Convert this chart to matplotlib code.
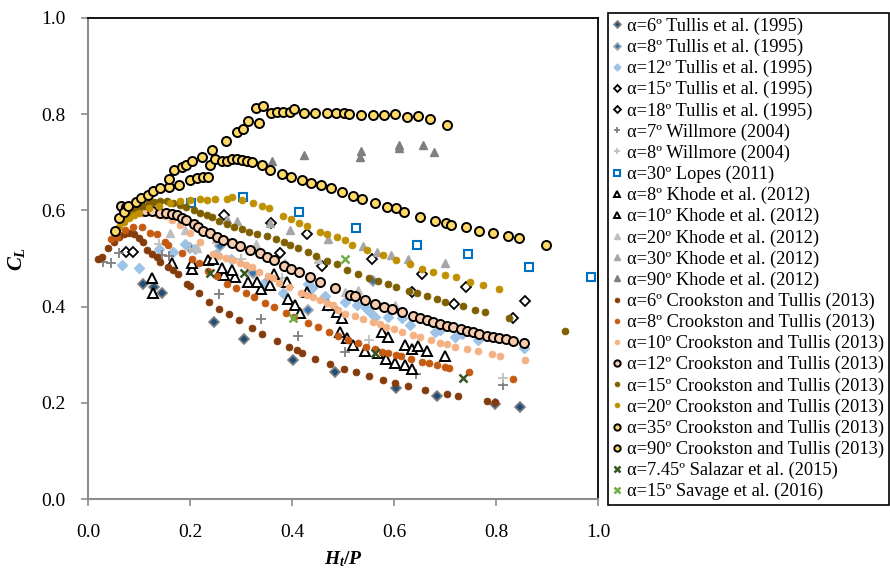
import matplotlib
matplotlib.use('Agg')
import matplotlib.pyplot as plt

plt.rcParams['font.family'] = ['Liberation Serif', 'DejaVu Serif']
plt.rcParams['mathtext.fontset'] = 'custom'
plt.rcParams['mathtext.it'] = 'Liberation Serif:italic:bold'
plt.rcParams['mathtext.rm'] = 'Liberation Serif:bold'

# Tullis et al. (1995)
tullis6_x = [0.107, 0.129, 0.146, 0.248, 0.305, 0.401, 0.484, 0.603, 0.685, 0.799, 0.847]
tullis6_y = [0.446, 0.441, 0.428, 0.367, 0.332, 0.290, 0.263, 0.230, 0.215, 0.198, 0.191]
tullis8_x = [0.200, 0.259, 0.324, 0.386, 0.347, 0.432, 0.558]
tullis8_y = [0.521, 0.525, 0.469, 0.486, 0.448, 0.392, 0.453]
tullis12_x = [0.066, 0.100, 0.140, 0.167, 0.190, 0.210, 0.250, 0.280, 0.344, 0.383, 0.432, 0.440,
              0.465, 0.504, 0.527, 0.545, 0.553, 0.563, 0.589, 0.615, 0.631, 0.680, 0.690, 0.720,
              0.733, 0.765, 0.854]
tullis12_y = [0.486, 0.480, 0.520, 0.514, 0.530, 0.520, 0.510, 0.500, 0.448, 0.428, 0.448, 0.438,
              0.421, 0.410, 0.403, 0.397, 0.389, 0.379, 0.379, 0.376, 0.362, 0.348, 0.352, 0.336,
              0.344, 0.331, 0.313]
tullis15_x = [0.075, 0.089, 0.267, 0.358, 0.429, 0.556, 0.654, 0.742, 0.857]
tullis15_y = [0.514, 0.514, 0.590, 0.574, 0.551, 0.498, 0.468, 0.441, 0.412]
tullis18_x = [0.376, 0.459, 0.635, 0.718, 0.833]
tullis18_y = [0.512, 0.484, 0.431, 0.405, 0.376]

# Willmore (2004)
willmore7_x = [0.029, 0.046, 0.061, 0.146, 0.159, 0.257, 0.339, 0.412, 0.504, 0.643, 0.813]
willmore7_y = [0.493, 0.491, 0.512, 0.507, 0.505, 0.426, 0.374, 0.338, 0.306, 0.260, 0.237]
willmore8_x = [0.140, 0.200, 0.300, 0.380, 0.470, 0.550, 0.813]
willmore8_y = [0.530, 0.520, 0.500, 0.460, 0.400, 0.330, 0.252]

# Lopes (2011)
lopes30_x = [0.201, 0.303, 0.414, 0.525, 0.645, 0.746, 0.865, 0.986]
lopes30_y = [0.615, 0.627, 0.597, 0.564, 0.528, 0.509, 0.482, 0.462]

# Khode et al. (2012)
khode8_x = [0.125, 0.127, 0.203, 0.267, 0.288, 0.339, 0.393, 0.405, 0.416, 0.494, 0.507, 0.520,
            0.544, 0.569, 0.585, 0.602, 0.622, 0.636]
khode8_y = [0.459, 0.428, 0.478, 0.466, 0.462, 0.436, 0.415, 0.403, 0.387, 0.348, 0.334, 0.320,
            0.308, 0.303, 0.292, 0.282, 0.279, 0.270]
khode10_x = [0.164, 0.203, 0.236, 0.246, 0.262, 0.282, 0.314, 0.331, 0.357, 0.365, 0.391, 0.429,
             0.471, 0.488, 0.499, 0.576, 0.589, 0.622, 0.636, 0.648, 0.665, 0.700]
khode10_y = [0.490, 0.490, 0.497, 0.500, 0.480, 0.476, 0.452, 0.452, 0.445, 0.468, 0.452, 0.431,
             0.403, 0.389, 0.376, 0.348, 0.336, 0.320, 0.311, 0.318, 0.308, 0.297]
khode20_x = [0.161, 0.190, 0.213, 0.250, 0.330, 0.450, 0.504, 0.530, 0.602]
khode20_y = [0.552, 0.560, 0.521, 0.540, 0.530, 0.500, 0.431, 0.435, 0.403]
khode30_x = [0.272, 0.292, 0.357, 0.396, 0.471, 0.540, 0.567, 0.594, 0.628, 0.700]
khode30_y = [0.583, 0.577, 0.573, 0.560, 0.540, 0.525, 0.514, 0.507, 0.500, 0.490]
khode90_x = [0.360, 0.424, 0.533, 0.535, 0.609, 0.610, 0.657, 0.679]
khode90_y = [0.703, 0.715, 0.712, 0.724, 0.736, 0.729, 0.736, 0.721]

# Crookston and Tullis (2013)
ct6_x = [0.020, 0.027, 0.040, 0.050, 0.060, 0.070, 0.080, 0.090, 0.100, 0.108, 0.115, 0.125,
         0.135, 0.141, 0.157, 0.167, 0.177, 0.194, 0.200, 0.218, 0.238, 0.257, 0.277, 0.296,
         0.321, 0.342, 0.370, 0.394, 0.409, 0.419, 0.445, 0.475, 0.501, 0.525, 0.551, 0.579,
         0.602, 0.628, 0.661, 0.703, 0.726, 0.783, 0.799]
ct6_y = [0.500, 0.504, 0.521, 0.535, 0.545, 0.550, 0.553, 0.550, 0.543, 0.535, 0.518, 0.510,
         0.504, 0.493, 0.483, 0.476, 0.468, 0.448, 0.443, 0.428, 0.410, 0.395, 0.384, 0.372,
         0.355, 0.342, 0.329, 0.315, 0.310, 0.304, 0.292, 0.281, 0.270, 0.263, 0.256, 0.247,
         0.242, 0.235, 0.227, 0.218, 0.214, 0.204, 0.202]
ct8_x = [0.045, 0.056, 0.073, 0.089, 0.105, 0.122, 0.135, 0.151, 0.157, 0.184, 0.203, 0.218,
         0.236, 0.252, 0.272, 0.290, 0.309, 0.325, 0.348, 0.365, 0.388, 0.404, 0.431, 0.450,
         0.473, 0.490, 0.510, 0.529, 0.546, 0.563, 0.576, 0.589, 0.604, 0.613, 0.633, 0.654,
         0.669, 0.684, 0.700, 0.708, 0.748, 0.833]
ct8_y = [0.540, 0.545, 0.559, 0.566, 0.566, 0.552, 0.550, 0.535, 0.529, 0.511, 0.500, 0.490,
         0.475, 0.464, 0.448, 0.438, 0.429, 0.419, 0.408, 0.400, 0.386, 0.379, 0.365, 0.357,
         0.347, 0.339, 0.331, 0.324, 0.317, 0.311, 0.306, 0.303, 0.299, 0.298, 0.291, 0.285,
         0.282, 0.279, 0.274, 0.273, 0.263, 0.249]
ct10_x = [0.090, 0.105, 0.120, 0.135, 0.150, 0.165, 0.180, 0.200, 0.220, 0.245, 0.256, 0.270,
          0.285, 0.298, 0.309, 0.321, 0.336, 0.352, 0.363, 0.375, 0.395, 0.417, 0.429, 0.442,
          0.455, 0.469, 0.481, 0.491, 0.504, 0.524, 0.539, 0.558, 0.573, 0.585, 0.600, 0.615,
          0.637, 0.650, 0.672, 0.690, 0.703, 0.720, 0.744, 0.765, 0.792, 0.808, 0.857]
ct10_y = [0.590, 0.595, 0.597, 0.593, 0.588, 0.580, 0.570, 0.553, 0.535, 0.510, 0.506, 0.502,
          0.497, 0.491, 0.487, 0.483, 0.471, 0.464, 0.459, 0.450, 0.440, 0.429, 0.424, 0.419,
          0.414, 0.408, 0.403, 0.392, 0.385, 0.380, 0.374, 0.369, 0.363, 0.358, 0.353, 0.348,
          0.340, 0.337, 0.331, 0.325, 0.322, 0.317, 0.312, 0.307, 0.301, 0.297, 0.289]
ct12_x = [0.065, 0.075, 0.085, 0.095, 0.105, 0.112, 0.126, 0.141, 0.152, 0.164, 0.174, 0.184,
          0.193, 0.207, 0.216, 0.226, 0.239, 0.252, 0.265, 0.282, 0.298, 0.318, 0.337, 0.350,
          0.365, 0.384, 0.398, 0.414, 0.435, 0.455, 0.484, 0.514, 0.524, 0.543, 0.563, 0.581,
          0.597, 0.616, 0.637, 0.650, 0.664, 0.677, 0.690, 0.703, 0.716, 0.731, 0.743, 0.755,
          0.767, 0.782, 0.794, 0.806, 0.819, 0.833, 0.855]
ct12_y = [0.610, 0.607, 0.603, 0.600, 0.600, 0.599, 0.598, 0.595, 0.594, 0.592, 0.590, 0.585,
          0.580, 0.572, 0.566, 0.558, 0.552, 0.545, 0.538, 0.533, 0.525, 0.518, 0.511, 0.504,
          0.497, 0.484, 0.478, 0.471, 0.462, 0.452, 0.439, 0.425, 0.423, 0.413, 0.405, 0.400,
          0.394, 0.388, 0.380, 0.377, 0.372, 0.369, 0.364, 0.360, 0.357, 0.353, 0.350, 0.347,
          0.344, 0.339, 0.336, 0.335, 0.333, 0.328, 0.324]
ct15_x = [0.070, 0.080, 0.090, 0.100, 0.110, 0.120, 0.130, 0.141, 0.154, 0.167, 0.180, 0.193,
          0.207, 0.220, 0.233, 0.243, 0.257, 0.272, 0.286, 0.301, 0.316, 0.332, 0.350, 0.369,
          0.384, 0.396, 0.412, 0.431, 0.448, 0.469, 0.489, 0.507, 0.530, 0.550, 0.569, 0.589,
          0.604, 0.629, 0.646, 0.664, 0.685, 0.700, 0.735, 0.759, 0.779, 0.825, 0.935]
ct15_y = [0.590, 0.595, 0.600, 0.605, 0.610, 0.615, 0.618, 0.620, 0.620, 0.616, 0.612, 0.607,
          0.601, 0.595, 0.590, 0.587, 0.577, 0.572, 0.566, 0.561, 0.556, 0.551, 0.547, 0.540,
          0.535, 0.528, 0.521, 0.514, 0.505, 0.495, 0.489, 0.476, 0.468, 0.459, 0.453, 0.446,
          0.441, 0.433, 0.428, 0.421, 0.415, 0.410, 0.401, 0.392, 0.388, 0.376, 0.350]
ct20_x = [0.050, 0.060, 0.070, 0.080, 0.090, 0.100, 0.120, 0.140, 0.160, 0.180, 0.200, 0.220,
          0.233, 0.249, 0.272, 0.283, 0.301, 0.324, 0.341, 0.354, 0.382, 0.398, 0.414, 0.429,
          0.454, 0.468, 0.488, 0.504, 0.517, 0.548, 0.579, 0.604, 0.631, 0.654, 0.676, 0.700,
          0.721, 0.749, 0.774, 0.806]
ct20_y = [0.555, 0.565, 0.575, 0.585, 0.590, 0.595, 0.605, 0.610, 0.615, 0.620, 0.622, 0.623,
          0.622, 0.624, 0.624, 0.627, 0.622, 0.616, 0.609, 0.606, 0.588, 0.583, 0.574, 0.568,
          0.556, 0.551, 0.544, 0.538, 0.529, 0.518, 0.507, 0.497, 0.488, 0.479, 0.471, 0.466,
          0.461, 0.452, 0.445, 0.437]
ct35_x = [0.052, 0.061, 0.071, 0.079, 0.094, 0.103, 0.118, 0.127, 0.141, 0.159, 0.178, 0.200,
          0.213, 0.226, 0.236, 0.239, 0.249, 0.262, 0.272, 0.282, 0.292, 0.301, 0.311, 0.322,
          0.341, 0.357, 0.381, 0.398, 0.419, 0.437, 0.457, 0.476, 0.499, 0.519, 0.537, 0.563,
          0.586, 0.603, 0.620, 0.650, 0.680, 0.702, 0.712, 0.742, 0.767, 0.795, 0.824, 0.846,
          0.898]
ct35_y = [0.558, 0.584, 0.597, 0.609, 0.618, 0.625, 0.632, 0.640, 0.647, 0.649, 0.653, 0.663,
          0.668, 0.669, 0.670, 0.694, 0.707, 0.702, 0.703, 0.707, 0.707, 0.705, 0.702, 0.701,
          0.694, 0.685, 0.676, 0.669, 0.664, 0.658, 0.652, 0.646, 0.638, 0.629, 0.624, 0.615,
          0.607, 0.605, 0.597, 0.586, 0.579, 0.574, 0.570, 0.565, 0.558, 0.552, 0.547, 0.543,
          0.528]
ct90_x = [0.159, 0.169, 0.184, 0.193, 0.203, 0.224, 0.243, 0.270, 0.293, 0.303, 0.313, 0.329,
          0.335, 0.343, 0.358, 0.370, 0.382, 0.396, 0.404, 0.424, 0.445, 0.468, 0.486, 0.502,
          0.511, 0.535, 0.559, 0.581, 0.602, 0.626, 0.648, 0.671, 0.703]
ct90_y = [0.665, 0.683, 0.690, 0.694, 0.703, 0.710, 0.726, 0.744, 0.763, 0.769, 0.786, 0.813,
          0.782, 0.817, 0.802, 0.804, 0.804, 0.804, 0.810, 0.802, 0.802, 0.802, 0.802, 0.802,
          0.800, 0.798, 0.798, 0.798, 0.800, 0.794, 0.796, 0.790, 0.778]

# Salazar et al. (2015), Savage et al. (2016)
salazar_x = [0.240, 0.306, 0.563, 0.736]
salazar_y = [0.470, 0.470, 0.303, 0.252]
savage_x = [0.401, 0.504]
savage_y = [0.376, 0.498]

series = [
    (tullis6_x, tullis6_y, 'α=6º Tullis et al. (1995)', dict(marker='D', ms=5, mfc='#1F4E79', mec='#7F7F7F', mew=1.2)),
    (tullis8_x, tullis8_y, 'α=8º Tullis et al. (1995)', dict(marker='D', ms=5, mfc='#2E75B6', mec='#A6A6A6', mew=1.2)),
    (tullis12_x, tullis12_y, 'α=12º Tullis et al. (1995)', dict(marker='D', ms=5, mfc='#9DC3E6', mec='#9DC3E6', mew=1)),
    (tullis15_x, tullis15_y, 'α=15º Tullis et al. (1995)', dict(marker='D', ms=5, mfc='white', mec='black', mew=1.3)),
    (tullis18_x, tullis18_y, 'α=18º Tullis et al. (1995)', dict(marker='D', ms=5, mfc='white', mec='black', mew=1.3)),
    (willmore7_x, willmore7_y, 'α=7º Willmore (2004)', dict(marker='+', ms=7, mec='#7F7F7F', mew=1.3)),
    (willmore8_x, willmore8_y, 'α=8º Willmore (2004)', dict(marker='+', ms=7, mec='#BFBFBF', mew=1.3)),
    (lopes30_x, lopes30_y, 'α=30º Lopes (2011)', dict(marker='s', ms=6, mfc='white', mec='#0070C0', mew=1.5)),
    (khode8_x, khode8_y, 'α=8º Khode et al. (2012)', dict(marker='^', ms=7, mfc='white', mec='black', mew=1.4)),
    (khode10_x, khode10_y, 'α=10º Khode et al. (2012)', dict(marker='^', ms=7, mfc='white', mec='black', mew=1.4)),
    (khode20_x, khode20_y, 'α=20º Khode et al. (2012)', dict(marker='^', ms=6, mfc='#BFBFBF', mec='#BFBFBF', mew=1)),
    (khode30_x, khode30_y, 'α=30º Khode et al. (2012)', dict(marker='^', ms=6, mfc='#A6A6A6', mec='#A6A6A6', mew=1)),
    (khode90_x, khode90_y, 'α=90º Khode et al. (2012)', dict(marker='^', ms=6, mfc='#7F7F7F', mec='#7F7F7F', mew=1)),
    (ct6_x, ct6_y, 'α=6º Crookston and Tullis (2013)', dict(marker='o', ms=5, mfc='#843C0C', mec='#843C0C', mew=0.5)),
    (ct8_x, ct8_y, 'α=8º Crookston and Tullis (2013)', dict(marker='o', ms=5, mfc='#C55A11', mec='#C55A11', mew=0.5)),
    (ct10_x, ct10_y, 'α=10º Crookston and Tullis (2013)', dict(marker='o', ms=5, mfc='#F4B183', mec='#F4B183', mew=0.5)),
    (ct12_x, ct12_y, 'α=12º Crookston and Tullis (2013)', dict(marker='o', ms=6.5, mfc='#F8CBAD', mec='black', mew=1.4)),
    (ct15_x, ct15_y, 'α=15º Crookston and Tullis (2013)', dict(marker='o', ms=5, mfc='#7F6000', mec='#7F6000', mew=0.5)),
    (ct20_x, ct20_y, 'α=20º Crookston and Tullis (2013)', dict(marker='o', ms=5, mfc='#BF9000', mec='#BF9000', mew=0.5)),
    (ct35_x, ct35_y, 'α=35º Crookston and Tullis (2013)', dict(marker='o', ms=6.5, mfc='#FFD966', mec='black', mew=1.4)),
    (ct90_x, ct90_y, 'α=90º Crookston and Tullis (2013)', dict(marker='o', ms=6.5, mfc='#FFD966', mec='black', mew=1.4)),
    (salazar_x, salazar_y, 'α=7.45º Salazar et al. (2015)', dict(marker='x', ms=6, mec='#375623', mew=1.8)),
    (savage_x, savage_y, 'α=15º Savage et al. (2016)', dict(marker='x', ms=6, mec='#70AD47', mew=1.8)),
]

fig = plt.figure(figsize=(8.9, 5.69), dpi=100)
ax = fig.add_axes([88/890, 1-499/569, 510/890, 481/569])

for x, y, label, style in series:
    ax.plot(x, y, linestyle='none', label=label, **style)

ax.set_xlim(0, 1.0)
ax.set_ylim(0, 1.0)
ax.set_xticks([0, 0.2, 0.4, 0.6, 0.8, 1.0])
ax.set_yticks([0, 0.2, 0.4, 0.6, 0.8, 1.0])
ax.set_xticklabels(['0.0', '0.2', '0.4', '0.6', '0.8', '1.0'])
ax.set_yticklabels(['0.0', '0.2', '0.4', '0.6', '0.8', '1.0'])
ax.tick_params(direction='out', length=5, width=1.2, color='#8C8C8C', labelsize=14)
ax.tick_params(axis='x', pad=13)
ax.tick_params(axis='y', pad=11)

for s in ['left', 'bottom']:
    ax.spines[s].set_color('#8C8C8C')
    ax.spines[s].set_linewidth(1.5)
for s in ['top', 'right']:
    ax.spines[s].set_color('black')
    ax.spines[s].set_linewidth(1.3)

ax.set_ylabel(r'$C_L$', fontsize=15)
ax.yaxis.set_label_coords(-0.12, 0.5)
ax.set_xlabel(r'$H_t/P$', fontsize=14)
ax.xaxis.set_label_coords(0.5, -0.104)

leg = fig.legend(loc='upper left', bbox_to_anchor=(608/890, 1-13/569), borderaxespad=0,
                 fancybox=False, edgecolor='black', framealpha=1, fontsize=13.2,
                 handlelength=0.5, handletextpad=0.3, labelspacing=0.21, markerscale=0.7,
                 borderpad=0.25)
leg.get_frame().set_linewidth(1.2)

fig.savefig('out.png', dpi=100)
